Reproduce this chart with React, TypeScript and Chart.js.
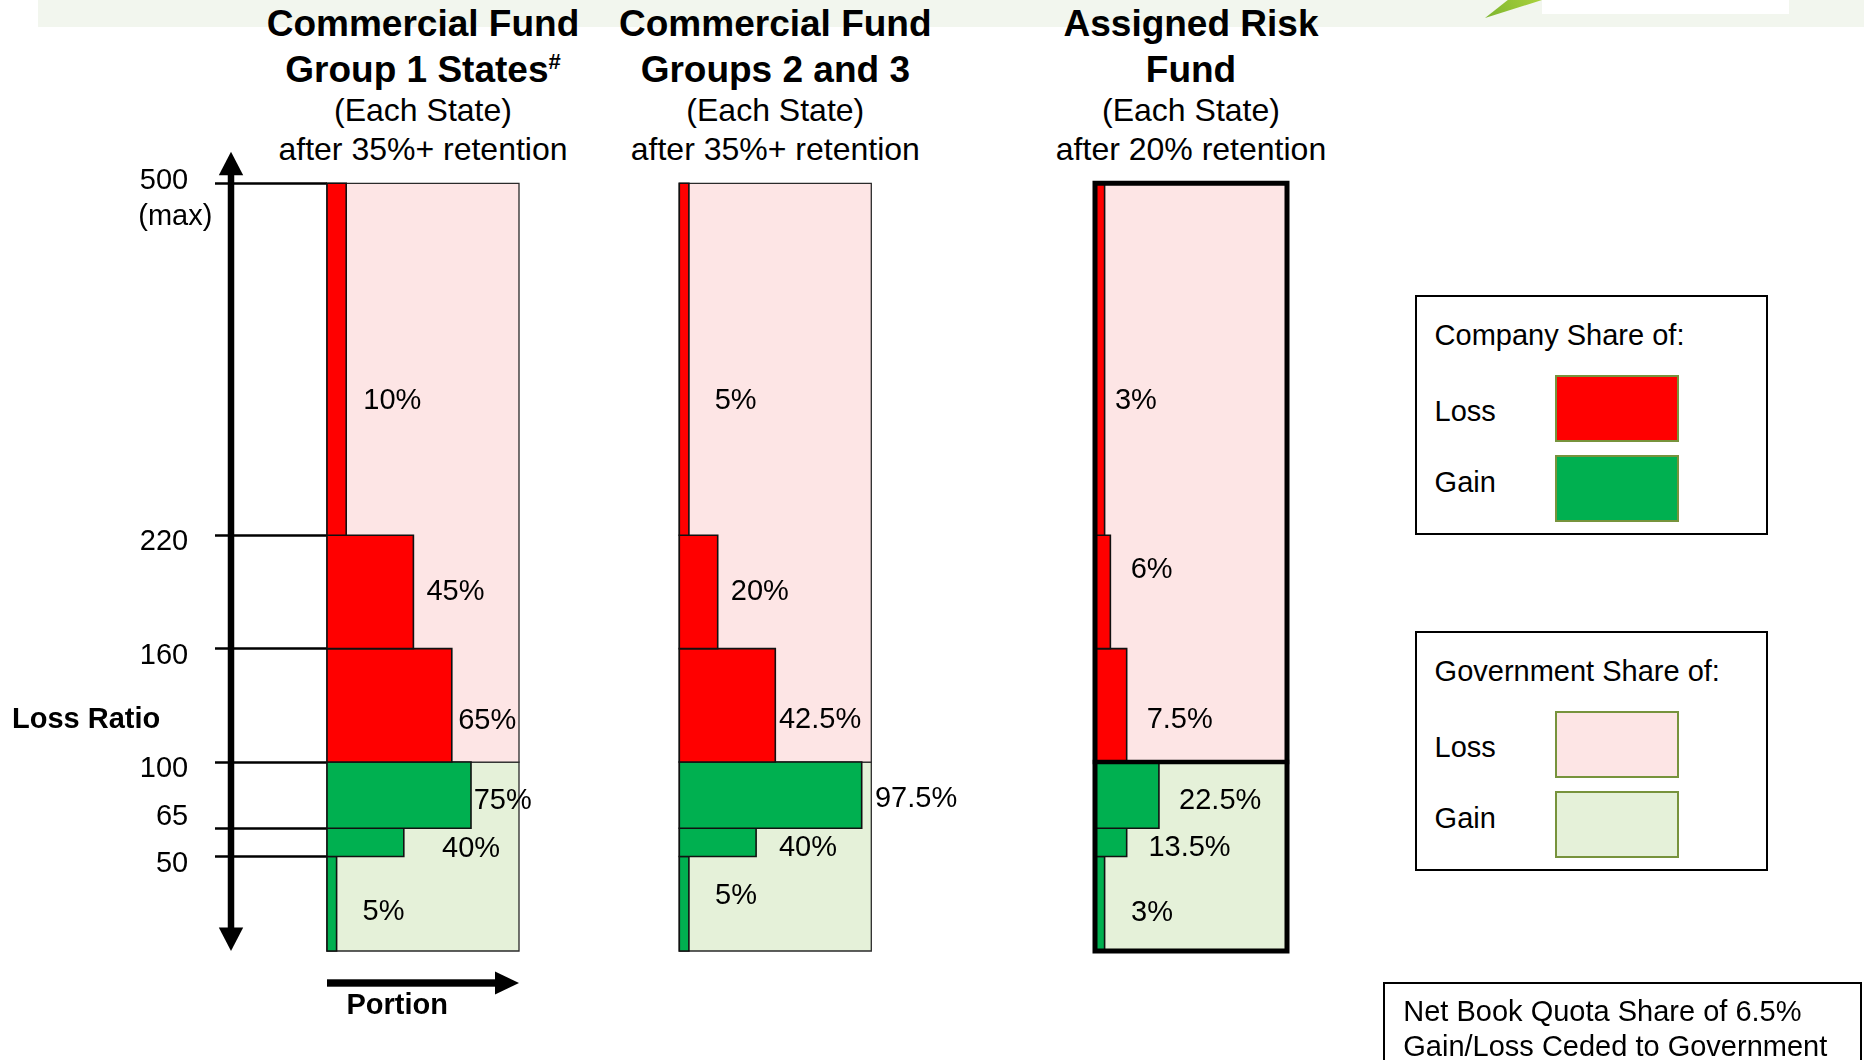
import React, { useEffect, useRef } from 'react';
import { Chart, registerables, LinearScale } from 'chart.js';

// ---------------- data ----------------
const LOSS_RATIO_MAX = 500;
const BREAK_EVEN = 100;
const LOSS_RATIO_TICKS = [500, 220, 160, 100, 65, 50];
const LOSS_RATIO_TICK_LABELS: (string | string[])[] = [['500', '(max)'], '220', '160', '100', ['65', ''], '50'];
const LOSS_BANDS = [[220, 500], [160, 220], [100, 160]];
const GAIN_BANDS = [[65, 100], [50, 65], [0, 50]];

const PANEL_TITLES = [
  ['Commercial Fund', 'Group 1 States'],
  ['Commercial Fund', 'Groups 2 and 3'],
  ['Assigned Risk', 'Fund'],
];
const PANEL_TITLE_MARKS = ['#', '', ''];
const PANEL_SUBTITLES = [
  ['(Each State)', 'after 35%+ retention'],
  ['(Each State)', 'after 35%+ retention'],
  ['(Each State)', 'after 20% retention'],
];

// company share portions (bar widths as drawn) and their printed labels
const G1_LOSS_PORTION = [10, 45, 65];
const G1_GAIN_PORTION = [75, 40, 5];
const G1_LOSS_LABELS = ['10%', '45%', '65%'];
const G1_GAIN_LABELS = ['75%', '40%', '5%'];

const G23_LOSS_PORTION = [5, 20, 50];
const G23_GAIN_PORTION = [95, 40, 5];
const G23_LOSS_LABELS = ['5%', '20%', '42.5%'];
const G23_GAIN_LABELS = ['97.5%', '40%', '5%'];

const ARF_LOSS_PORTION = [5, 8, 16.5];
const ARF_GAIN_PORTION = [33.3, 16.5, 5];
const ARF_LOSS_LABELS = ['3%', '6%', '7.5%'];
const ARF_GAIN_LABELS = ['22.5%', '13.5%', '3%'];

const LEGEND_TITLES = ['Company Share of:', 'Government Share of:'];
const LEGEND_ITEMS = ['Loss', 'Gain'];
const NOTE_LINES = ['Net Book Quota Share of 6.5%', 'Gain/Loss Ceded to Government'];
const Y_AXIS_TITLE = 'Loss Ratio';
const X_AXIS_TITLE = 'Portion';

// ---------------- styles / layout ----------------
const FONT = '"Liberation Sans", Arial, Helvetica, sans-serif';
const CO_LOSS = '#FF0000';
const CO_GAIN = '#00B050';
const GOV_LOSS = '#FDE5E5';
const GOV_GAIN = '#E5F1D9';
const SWATCH_BORDER = '#77933C';

const AXIS_BREAK = 220;
const BREAK_FRACTION = 0.5415;

const CANVAS_TOP = 100;
const CANVAS_H = 920;
const PAD_TOP = 83.3;
const PAD_BOTTOM = 69;
const TICK_LINE_PAD = '   '; // first label line sits left of the hanging "(max)" line
const TICK_LINE_HEIGHT = 1.22;

const PANEL_LAYOUT = [
  { canvasLeft: 0, width: 600, padLeft: 0, axisWidth: 327, padRight: 81, framed: false },
  { canvasLeft: 600, width: 400, padLeft: 79.3, axisWidth: 0, padRight: 128.7, framed: false },
  { canvasLeft: 1000, width: 400, padLeft: 95, axisWidth: 0, padRight: 113, framed: true },
];

// label anchors: [portion, loss ratio] of the left/middle of each percentage label
const LABEL_ANCHORS = [
  { loss: [[18.9, 329], [51.8, 191], [68.3, 123.2]], gain: [[76.4, 80.8], [59.9, 55.5], [18.5, 21.7]] },
  { loss: [[18.4, 329], [26.8, 191], [51.9, 123.3]], gain: [[101.9, 81.5], [51.9, 55.6], [18.6, 30.2]] },
  { loss: [[10.4, 329], [18.6, 202.7], [26.9, 123.3]], gain: [[43.8, 80.8], [27.8, 55.6], [18.8, 21.2]] },
];

const PANELS = [
  { lossPortion: G1_LOSS_PORTION, gainPortion: G1_GAIN_PORTION, lossLabels: G1_LOSS_LABELS, gainLabels: G1_GAIN_LABELS },
  { lossPortion: G23_LOSS_PORTION, gainPortion: G23_GAIN_PORTION, lossLabels: G23_LOSS_LABELS, gainLabels: G23_GAIN_LABELS },
  { lossPortion: ARF_LOSS_PORTION, gainPortion: ARF_GAIN_PORTION, lossLabels: ARF_LOSS_LABELS, gainLabels: ARF_GAIN_LABELS },
];

// ---------------- broken linear scale ----------------
class BrokenLinearScale extends LinearScale {
  static id = 'brokenLinear';
  static defaults = (LinearScale as any).defaults;
  getPixelForValue(value: any) {
    if (value === null || value === undefined || isNaN(value)) return NaN;
    const min = (this as any).min;
    const max = (this as any).max;
    let f: number;
    if (value <= AXIS_BREAK) f = ((value - min) / (AXIS_BREAK - min)) * BREAK_FRACTION;
    else f = BREAK_FRACTION + ((value - AXIS_BREAK) / (max - AXIS_BREAK)) * (1 - BREAK_FRACTION);
    return (this as any).getPixelForDecimal(f);
  }
  getValueForPixel(pixel: number) {
    const f = (this as any).getDecimalForPixel(pixel);
    const min = (this as any).min;
    const max = (this as any).max;
    if (f <= BREAK_FRACTION) return min + (f / BREAK_FRACTION) * (AXIS_BREAK - min);
    return AXIS_BREAK + ((f - BREAK_FRACTION) / (1 - BREAK_FRACTION)) * (max - AXIS_BREAK);
  }
}

Chart.register(...registerables, BrokenLinearScale as any);
Chart.defaults.font.family = FONT;

function rect(x0: number, x1: number, y0: number, y1: number) {
  return [
    { x: x0, y: y0 },
    { x: x0, y: y1 },
    { x: x1, y: y1 },
    { x: x1, y: y0 },
    { x: x0, y: y0 },
  ];
}

function buildDatasets(p: any, framed: boolean) {
  const base = {
    fill: 'shape',
    pointRadius: 0,
    pointHoverRadius: 0,
    tension: 0,
    clip: false,
    borderJoinStyle: 'miter',
    borderCapStyle: 'square',
  };
  const ds: any[] = [
    { ...base, data: rect(0, 100, BREAK_EVEN, LOSS_RATIO_MAX), backgroundColor: GOV_LOSS, borderColor: '#2a2a2a', borderWidth: 1.3, order: 4 },
    { ...base, data: rect(0, 100, 0, BREAK_EVEN), backgroundColor: GOV_GAIN, borderColor: '#2a2a2a', borderWidth: 1.3, order: 4 },
  ];
  LOSS_BANDS.forEach(([lo, hi], j) => {
    ds.push({ ...base, data: rect(0, p.lossPortion[j], lo, hi), backgroundColor: CO_LOSS, borderColor: '#111', borderWidth: 1.6, order: 2 });
  });
  GAIN_BANDS.forEach(([lo, hi], j) => {
    ds.push({ ...base, data: rect(0, p.gainPortion[j], lo, hi), backgroundColor: CO_GAIN, borderColor: '#111', borderWidth: 1.6, order: 2 });
  });
  if (framed) {
    ds.push({ ...base, fill: false, data: rect(0, 100, 0, LOSS_RATIO_MAX), borderColor: '#000', borderWidth: 5, order: 0 });
    ds.push({ ...base, fill: false, data: [{ x: 0, y: BREAK_EVEN }, { x: 100, y: BREAK_EVEN }], borderColor: '#000', borderWidth: 4.5, order: 0 });
  }
  return ds;
}

function makeLabelPlugin(p: any, anchors: any) {
  const items: { text: string; x: number; y: number }[] = [];
  p.lossLabels.forEach((t: string, j: number) => items.push({ text: t, x: anchors.loss[j][0], y: anchors.loss[j][1] }));
  p.gainLabels.forEach((t: string, j: number) => items.push({ text: t, x: anchors.gain[j][0], y: anchors.gain[j][1] }));
  return {
    id: 'shareLabels',
    afterDatasetsDraw(chart: any) {
      const { ctx } = chart;
      const xs = chart.scales.x;
      const ys = chart.scales.y;
      ctx.save();
      ctx.font = `29px ${FONT}`;
      ctx.fillStyle = '#000';
      ctx.textAlign = 'left';
      ctx.textBaseline = 'alphabetic';
      for (const it of items) {
        ctx.fillText(it.text, xs.getPixelForValue(it.x), ys.getPixelForValue(it.y) + 10.4);
      }
      ctx.restore();
    },
  };
}

const axisArrowsPlugin = {
  id: 'axisArrows',
  afterDraw(chart: any) {
    const { ctx, chartArea: a } = chart;
    ctx.save();
    ctx.fillStyle = '#000';
    // vertical double-headed arrow
    const cx = a.left - 96;
    const top = a.top - 31.6;
    const bottom = a.bottom;
    const hw = 12.2;
    const hh = 23.5;
    const sw = 3.25;
    ctx.fillRect(cx - sw, top + hh - 1, sw * 2, bottom - top - 2 * hh + 2);
    ctx.beginPath();
    ctx.moveTo(cx, top);
    ctx.lineTo(cx - hw, top + hh);
    ctx.lineTo(cx + hw, top + hh);
    ctx.closePath();
    ctx.fill();
    ctx.beginPath();
    ctx.moveTo(cx, bottom);
    ctx.lineTo(cx - hw, bottom - hh);
    ctx.lineTo(cx + hw, bottom - hh);
    ctx.closePath();
    ctx.fill();
    // horizontal "portion" arrow
    const ay = a.bottom + 32;
    const ah = 24;
    ctx.fillRect(a.left, ay - 3.7, a.right - a.left - ah + 1, 7.4);
    ctx.beginPath();
    ctx.moveTo(a.right, ay);
    ctx.lineTo(a.right - ah, ay - 11.5);
    ctx.lineTo(a.right - ah, ay + 11.5);
    ctx.closePath();
    ctx.fill();
    ctx.restore();
  },
};

function hasHangingLine(v: any) {
  const lab = LOSS_RATIO_TICK_LABELS[LOSS_RATIO_TICKS.indexOf(Number(v))];
  return Array.isArray(lab) && lab.length > 1 && lab[1] !== '';
}

function tickLabel(v: any) {
  const lab = LOSS_RATIO_TICK_LABELS[LOSS_RATIO_TICKS.indexOf(Number(v))];
  if (!Array.isArray(lab)) return lab + TICK_LINE_PAD;
  if (hasHangingLine(v)) return ['', lab[0] + TICK_LINE_PAD, '', lab[1]];
  return lab.map((l, k) => (k === 0 ? l + TICK_LINE_PAD : l));
}

function PanelChart({ index }: { index: number }) {
  const ref = useRef<HTMLCanvasElement>(null);
  const L = PANEL_LAYOUT[index];
  useEffect(() => {
    if (!ref.current) return;
    const p = PANELS[index];
    const showAxis = L.axisWidth > 0;
    const chart = new Chart(ref.current, {
      type: 'line',
      data: { datasets: buildDatasets(p, L.framed) },
      options: {
        responsive: false,
        animation: false,
        devicePixelRatio: 1,
        events: [],
        layout: {
          autoPadding: false,
          padding: { left: L.padLeft, right: L.padRight, top: PAD_TOP, bottom: PAD_BOTTOM },
        },
        plugins: {
          legend: { display: false },
          tooltip: { enabled: false },
          title: { display: false },
        },
        scales: {
          x: { type: 'linear', min: 0, max: 100, display: false },
          y: {
            type: 'brokenLinear',
            min: 0,
            max: LOSS_RATIO_MAX,
            display: showAxis,
            position: 'left',
            afterBuildTicks: (s: any) => {
              s.ticks = LOSS_RATIO_TICKS.map((v) => ({ value: v }));
            },
            afterFit: (s: any) => {
              if (showAxis) s.width = L.axisWidth;
            },
            grid: {
              drawOnChartArea: false,
              drawTicks: true,
              tickLength: 112,
              tickWidth: 2.5,
              tickColor: '#000',
              color: '#000',
            },
            border: { display: false },
            ticks: {
              autoSkip: false,
              padding: 2.6,
              labelOffset: 7,
              color: '#000',
              font: (c: any) => ({
                family: FONT,
                size: 29,
                lineHeight: c.tick && hasHangingLine(c.tick.value) ? TICK_LINE_HEIGHT / 2 : TICK_LINE_HEIGHT,
              }),
              callback: (v: any) => tickLabel(v),
            },
          } as any,
        },
      } as any,
      plugins: [makeLabelPlugin(p, LABEL_ANCHORS[index]), ...(showAxis ? [axisArrowsPlugin] : [])],
    });
    return () => chart.destroy();
  }, []);
  return (
    <canvas
      ref={ref}
      width={L.width}
      height={CANVAS_H}
      style={{ position: 'absolute', left: L.canvasLeft, top: CANVAS_TOP, width: L.width, height: CANVAS_H }}
    />
  );
}

function panelCenter(i: number) {
  const L = PANEL_LAYOUT[i];
  const left = L.canvasLeft + L.padLeft + L.axisWidth;
  const right = L.canvasLeft + L.width - L.padRight;
  return (left + right) / 2;
}

const textBase: React.CSSProperties = {
  position: 'absolute',
  whiteSpace: 'pre',
  lineHeight: 1,
  color: '#000',
  fontFamily: FONT,
};

function PanelTitle({ i }: { i: number }) {
  const cx = panelCenter(i);
  const bold: React.CSSProperties = { ...textBase, fontSize: 37, fontWeight: 700, left: cx, transform: 'translateX(-50%)' };
  const reg: React.CSSProperties = { ...textBase, fontSize: 32, left: cx, transform: 'translateX(-50%)' };
  return (
    <>
      <div style={{ ...bold, top: 5.2 }}>{PANEL_TITLES[i][0]}</div>
      <div style={{ ...bold, top: 51.2 }}>
        {PANEL_TITLES[i][1]}
        {PANEL_TITLE_MARKS[i] ? (
          <sup style={{ fontSize: 22, verticalAlign: 'super', lineHeight: 0 }}>{PANEL_TITLE_MARKS[i]}</sup>
        ) : null}
      </div>
      <div style={{ ...reg, top: 93.9 }}>{PANEL_SUBTITLES[i][0]}</div>
      <div style={{ ...reg, top: 133.4 }}>{PANEL_SUBTITLES[i][1]}</div>
    </>
  );
}

const LEGEND_LAYOUT = [
  { top: 295.3, titleTop: 320.5, itemTops: [397, 468], swatchTops: [374.5, 454.5], colors: [CO_LOSS, CO_GAIN] },
  { top: 631.3, titleTop: 656.5, itemTops: [733, 803.5], swatchTops: [711, 791.3], colors: [GOV_LOSS, GOV_GAIN] },
];

function LegendBox({ g }: { g: number }) {
  const Lg = LEGEND_LAYOUT[g];
  return (
    <>
      <div
        style={{
          position: 'absolute',
          left: 1414.5,
          top: Lg.top,
          width: 353.5,
          height: 240,
          border: '2px solid #000',
          boxSizing: 'border-box',
          background: '#fff',
        }}
      />
      <div style={{ ...textBase, fontSize: 29, left: 1434.6, top: Lg.titleTop }}>{LEGEND_TITLES[g]}</div>
      {LEGEND_ITEMS.map((t, k) => (
        <React.Fragment key={t}>
          <div style={{ ...textBase, fontSize: 29, left: 1434.6, top: Lg.itemTops[k] }}>{t}</div>
          <div
            style={{
              position: 'absolute',
              left: 1554.7,
              top: Lg.swatchTops[k],
              width: 124.5,
              height: 67,
              background: Lg.colors[k],
              border: `2.5px solid ${SWATCH_BORDER}`,
              boxSizing: 'border-box',
            }}
          />
        </React.Fragment>
      ))}
    </>
  );
}

export default function App() {
  return (
    <div
      style={{
        position: 'absolute',
        left: 0,
        top: 0,
        width: 1874,
        height: 1060,
        overflow: 'hidden',
        background: '#fff',
        fontFamily: FONT,
      }}
    >
      {/* slide header band */}
      <div style={{ position: 'absolute', left: 38, top: 0, width: 1826, height: 26.7, background: '#F2F6EE' }} />
      <div
        style={{
          position: 'absolute',
          left: 1485,
          top: 0,
          width: 57,
          height: 18,
          background: 'linear-gradient(60deg, #7DB52F, #A9D13C)',
          clipPath: 'polygon(0% 100%, 40% 0%, 100% 0%)',
        }}
      />
      <div style={{ position: 'absolute', left: 1542, top: 0, width: 247, height: 14, background: '#fff' }} />

      {[0, 1, 2].map((i) => (
        <PanelTitle key={'t' + i} i={i} />
      ))}
      {[0, 1, 2].map((i) => (
        <PanelChart key={'c' + i} index={i} />
      ))}

      <div style={{ ...textBase, fontSize: 29, fontWeight: 700, left: 12, top: 703.9 }}>{Y_AXIS_TITLE}</div>
      <div style={{ ...textBase, fontSize: 29, fontWeight: 700, left: 346.5, top: 989.8 }}>{X_AXIS_TITLE}</div>

      <LegendBox g={0} />
      <LegendBox g={1} />

      <div
        style={{
          position: 'absolute',
          left: 1382.7,
          top: 982.3,
          width: 479.3,
          height: 120,
          border: '2px solid #000',
          boxSizing: 'border-box',
        }}
      />
      <div style={{ ...textBase, fontSize: 29, lineHeight: '34.8px', left: 1403.3, top: 994.3 }}>
        {NOTE_LINES.map((l) => (
          <div key={l}>{l}</div>
        ))}
      </div>
    </div>
  );
}
